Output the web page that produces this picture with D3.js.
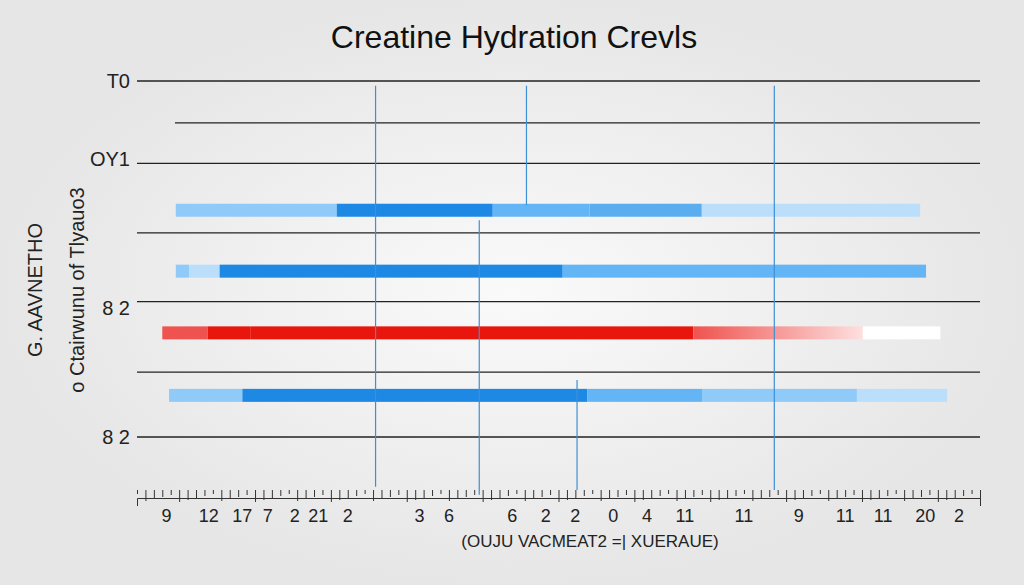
<!DOCTYPE html>
<html><head><meta charset="utf-8">
<script src="https://cdn.jsdelivr.net/npm/d3@7"></script>
<style>body{margin:0;background:#efefef}</style></head>
<body><svg id="c" width="1024" height="585"></svg>
<script>
const title = "Creatine Hydration Crevls";
const yLabels = ["T0","OY1","8 2","8 2"];
const yLabelPos = [0, 0.98, 2.87, 4.5];
const gridLines = [[0,0],[0.53,1],[1.04,0],[1.92,0],[2.79,0],[3.68,0],[4.5,0]];
const rows = [1.64, 2.41, 3.19, 3.98];
const segments = [
 [[4.6,23.7,"l"],[23.7,42.2,"d"],[42.2,53.7,"m"],[53.7,67,"m2"],[67,92.9,"l2"]],
 [[4.6,6.2,"l"],[6.2,9.8,"l2"],[9.8,50.5,"d"],[50.5,93.6,"m"]],
 [[3,8.4,"r"],[8.4,13.5,"rd"],[13.5,66,"rd"],[66,86.1,"rf"],[86.1,95.3,"w"]],
 [[3.8,12.5,"l"],[12.5,53.4,"d"],[53.4,67.1,"m"],[67.1,85.4,"l"],[85.4,96.1,"l2"]]
];
const vlines = [[28.3,0.06,5.13],[46.2,0.06,1.57],[75.6,0.06,5.17],[40.6,1.76,5.23],[52.2,3.78,5.17]];
const xTicks = ["9","12","17","7","2","21","2","3","6","6","2","2","0","4","11","11","9","11","11","20","2"];
const xTickPos = [3.5,8.5,12.5,15.5,18.7,21.5,25,33.5,37,44.5,48.5,52,56.5,60.5,65,72,78.5,84,88.5,93.5,97.5];
const xTitle = "(OUJU VACMEAT2 =| XUERAUE)";

const svg = d3.select("#c");
const defs = svg.append("defs");
const rg = defs.append("radialGradient").attr("id","bg");
rg.append("stop").attr("offset","0%").attr("stop-color","#fafafa");
rg.append("stop").attr("offset","100%").attr("stop-color","#e6e6e6");
svg.append("rect").attr("width",1024).attr("height",585).attr("fill","url(#bg)");
const fg = defs.append("linearGradient").attr("id","rf");
fg.append("stop").attr("offset","0%").attr("stop-color","#ef5350");
fg.append("stop").attr("offset","100%").attr("stop-color","#fde0df");

const x = d3.scaleLinear().domain([0,100]).range([137,980]);
const y = d3.scaleLinear().domain([0,4.5]).range([81,437]);
const col = {l:"#90caf9",l2:"#bbdefb",m:"#64b5f6",m2:"#5aaef0",d:"#1e88e5",r:"#ef5350",rd:"#e8160c",rf:"url(#rf)",w:"#ffffff"};
const F = "Liberation Sans, Arial";

svg.append("text").attr("x",514).attr("y",48).attr("text-anchor","middle")
 .attr("font-family",F).attr("font-size",32).attr("font-weight",500).attr("fill","#111").text(title);

gridLines.forEach(([v,s])=>{
  svg.append("line").attr("x1",s?175:137).attr("x2",980).attr("y1",y(v)).attr("y2",y(v))
   .attr("stroke","#222").attr("stroke-width",1.3);
});
rows.forEach((r,i)=>{
  segments[i].forEach(([a,b,c])=>{
    svg.append("rect").attr("x",x(a)).attr("width",x(b)-x(a)).attr("y",y(r)-7).attr("height",13).attr("fill",col[c]);
  });
});
vlines.forEach(([v,a,b])=>{
  svg.append("line").attr("x1",x(v)).attr("x2",x(v)).attr("y1",y(a)).attr("y2",y(b))
   .attr("stroke","#3d8fd6").attr("stroke-width",1.2);
});
yLabels.forEach((t,i)=>{
  svg.append("text").attr("x",130).attr("y",y(yLabelPos[i])+7).attr("text-anchor","end")
   .attr("font-family",F).attr("font-size",20).attr("fill","#222").text(t);
});
svg.append("text").attr("transform","translate(42,290) rotate(-90)").attr("text-anchor","middle")
 .attr("font-family",F).attr("font-size",20).attr("fill","#222").text("G. AAVNETHO");
svg.append("text").attr("transform","translate(84,290) rotate(-90)").attr("text-anchor","middle")
 .attr("font-family",F).attr("font-size",20).attr("fill","#222").text("o Ctairwunu of Tlyauo3");

const ax = d3.axisBottom(x).ticks(90).tickSize(8).tickFormat("");
const g = svg.append("g").attr("transform","translate(0,490)").call(ax);
g.select(".domain").attr("stroke","#333").attr("transform","translate(0,8)");
g.selectAll(".tick line").attr("stroke","#333").attr("y2",(d,i)=>4+(i*7%9));
xTicks.forEach((t,i)=>{
  svg.append("text").attr("x",x(xTickPos[i])).attr("y",522).attr("text-anchor","middle")
   .attr("font-family",F).attr("font-size",18).attr("fill","#222").text(t);
});
svg.append("text").attr("x",590).attr("y",547).attr("text-anchor","middle")
 .attr("font-family",F).attr("font-size",17).attr("fill","#222").text(xTitle);
</script></body></html>
